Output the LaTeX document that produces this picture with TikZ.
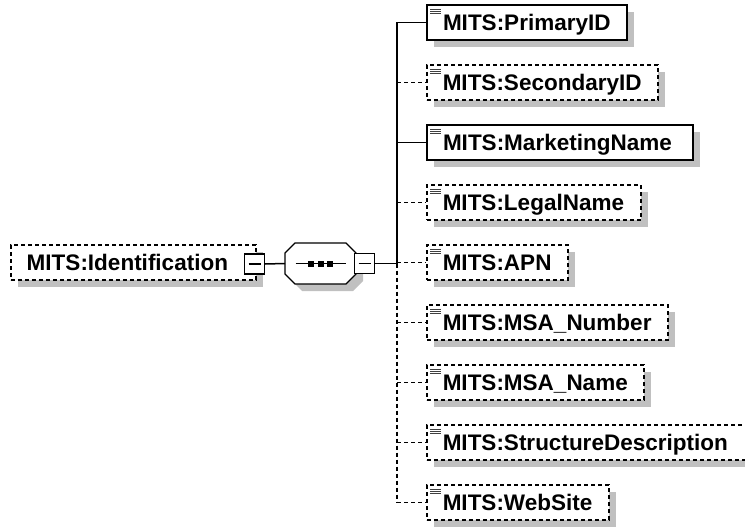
\documentclass[tikz,border=0pt]{standalone}
\usepackage{fontspec}
\newfontfamily\boxfont{Liberation Sans}
\usepackage{tikz}
\usetikzlibrary{shadows}
\hyphenpenalty=10000
\exhyphenpenalty=10000
\definecolor{shadowgray}{RGB}{192,192,192}
\tikzset{
	elem/.style={fill=white, anchor=west, minimum height=35pt, inner xsep=16pt, inner ysep=0pt,
		align=left, text height=16pt, text depth=0pt,
		font=\boxfont\bfseries\fontsize{22.5}{26}\selectfont,
		drop shadow={shadow xshift=7pt, shadow yshift=-7pt, fill=shadowgray, opacity=1}},
	reqbox/.style={elem, draw, line width=2pt},
	optbox/.style={elem, draw, line width=1.5pt, dash pattern=on 4pt off 3pt},
	leaf/.style={path picture={
		\foreach \d in {4.5,6.5,8.5}
			\draw[solid, line width=1pt, black!75] ([xshift=3pt,yshift=-\d pt]path picture bounding box.north west) -- ++(11,0);}},
	minusbox/.style={draw, fill=white, line width=1.2pt, minimum size=20pt, inner sep=0pt,
		path picture={\draw[line width=1.2pt] ([xshift=4pt]path picture bounding box.west) -- ([xshift=-4pt]path picture bounding box.east);}},
	seqshape/.style={draw, fill=white, line width=1.2pt,
		drop shadow={shadow xshift=7pt, shadow yshift=-7pt, fill=shadowgray, opacity=1}},
	reqline/.style={line width=1.5pt},
	optline/.style={line width=1.5pt, dash pattern=on 4pt off 3pt}
}
\begin{document}
\begin{tikzpicture}[x=1pt, y=-1pt]
	\useasboundingbox (0,0) rectangle (745,527);
	
	% Parent element and sequence
	\node[optbox, text width=213pt] (ident) at (10, 262.5) {MITS:Identification};
	\coordinate (seq) at (320.5, 263.5);
	\path[seqshape] ([shift={(-35.5,-10.5)}]seq) -- ++(10,-10) -- ++(51,0) -- ++(10,10) -- ++(0,21)
		-- ++(-10,10) -- ++(-51,0) -- ++(-10,-10) -- cycle;
	\coordinate (seqin) at ([xshift=-35.5pt]seq);
	\coordinate (seqout) at ([xshift=35.5pt]seq);
	\draw[line width=1.2pt] ([xshift=-25pt]seq) -- ([xshift=25pt]seq);
	\foreach \dx in {-9.5,0,9.5}
		\fill ([xshift=\dx pt]seq) +(-3,-3) rectangle +(3,3);
	\node[minusbox] (identminus) at (254.5, 264) {};
	\node[minusbox] (seqminus) at (364.5, 263.5) {};
	\draw[reqline] (identminus.east) -- (seqin);
	\coordinate (junction) at (397, 263.5);
	\draw[reqline] (seqminus.east) -- (junction);
	
	% Child elements
	\node[reqbox, leaf, text width=168pt] (primary) at (426, 22.5) {MITS:PrimaryID};
	\node[optbox, leaf, text width=199pt] (secondary) at (426, 82.5) {MITS:SecondaryID};
	\node[reqbox, leaf, text width=234pt] (marketing) at (426, 142.5) {MITS:MarketingName};
	\node[optbox, leaf, text width=182pt] (legal) at (426, 202.5) {MITS:LegalName};
	\node[optbox, leaf, text width=109pt] (apn) at (426, 262.5) {MITS:APN};
	\node[optbox, leaf, text width=209pt] (msanumber) at (426, 322.5) {MITS:MSA\_Number};
	\node[optbox, leaf, text width=185pt] (msaname) at (426, 382.5) {MITS:MSA\_Name};
	\node[optbox, leaf, text width=290pt] (structure) at (426, 442.5) {MITS:StructureDescription};
	\node[optbox, leaf, text width=150pt] (website) at (426, 502.5) {MITS:WebSite};
	
	% Trunk
	\draw[reqline] (junction) -- (junction |- primary.west);
	\draw[optline] (junction) -- (junction |- website.west);
	
	% Branches
	\draw[reqline] (junction |- primary.west) -- (primary.west);
	\draw[optline] (junction |- secondary.west) -- (secondary.west);
	\draw[reqline] (junction |- marketing.west) -- (marketing.west);
	\draw[optline] (junction |- legal.west) -- (legal.west);
	\draw[optline] (junction |- apn.west) -- (apn.west);
	\draw[optline] (junction |- msanumber.west) -- (msanumber.west);
	\draw[optline] (junction |- msaname.west) -- (msaname.west);
	\draw[optline] (junction |- structure.west) -- (structure.west);
	\draw[optline] (junction |- website.west) -- (website.west);
\end{tikzpicture}
\end{document}
